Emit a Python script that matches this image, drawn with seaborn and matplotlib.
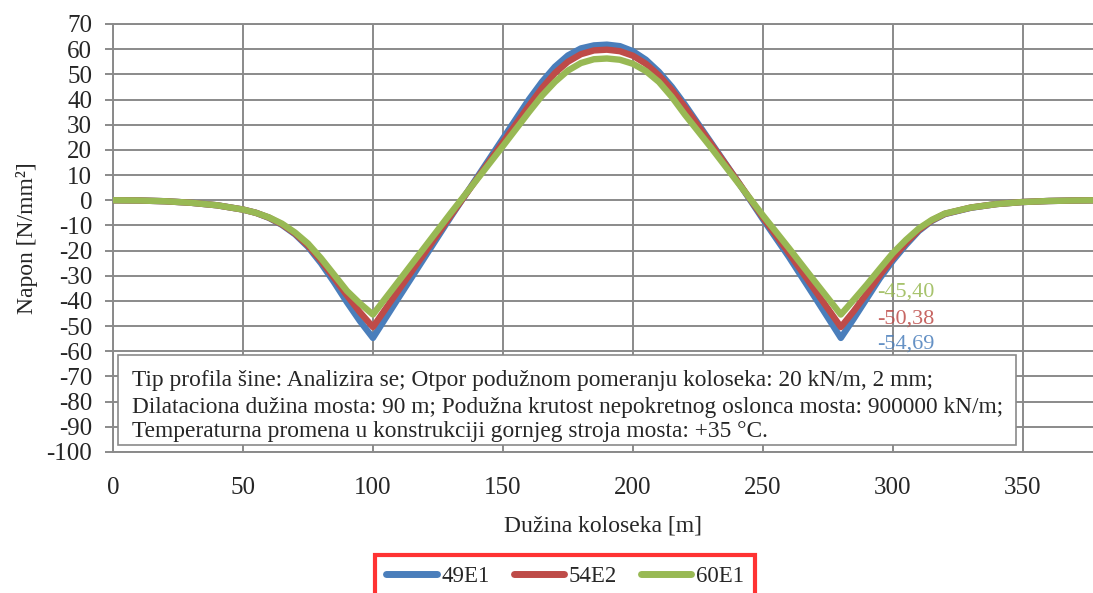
import pandas as pd
import seaborn as sns
import matplotlib.pyplot as plt
from matplotlib.patches import Rectangle

# duzina koloseka [m]
x_m = [0, 10, 20, 30, 40, 50, 55, 60, 65, 70, 75, 80, 85, 90, 95, 100,
       110, 120, 130, 140, 150, 160, 165, 170, 175, 180, 185, 190, 195, 200,
       205, 210, 215, 220, 230, 240, 250, 260, 270, 280, 285, 290, 295, 300,
       305, 310, 315, 320, 330, 340, 350, 360, 370, 380]

# napon [N/mm2] po profilu sine
napon_49E1 = [0, -0.1, -0.4, -1.0, -2.0, -3.7, -5.0, -7.0, -9.8, -13.5, -18.5, -25.0, -32.5, -40.5, -48.0, -54.69,
              -38.5, -22.5, -6.5, 9.0, 24.5, 40.0, 47.0, 53.0, 57.5, 60.3, 61.5, 61.8, 61.2, 59.2,
              55.8, 51.0, 45.0, 38.0, 23.0, 8.0, -7.5, -22.5, -38.5, -54.69, -47.0, -39.0, -31.0, -24.0,
              -17.8, -12.2, -8.2, -5.5, -3.0, -1.5, -0.7, -0.3, -0.1, 0]
napon_54E2 = [0, -0.1, -0.4, -1.0, -2.0, -3.7, -5.0, -6.9, -9.6, -13.2, -18.0, -24.0, -30.8, -37.8, -44.5, -50.38,
              -35.5, -20.8, -6.0, 8.5, 23.0, 37.5, 44.5, 50.5, 55.0, 58.0, 59.5, 59.8, 59.2, 57.4,
              54.2, 49.6, 43.8, 37.0, 22.5, 8.0, -6.8, -21.0, -35.7, -50.38, -44.0, -37.0, -29.8, -23.0,
              -17.0, -11.8, -8.0, -5.4, -2.9, -1.5, -0.7, -0.3, -0.1, 0]
napon_60E1 = [0, -0.1, -0.4, -1.0, -2.0, -3.7, -5.0, -6.8, -9.3, -12.8, -17.2, -23.0, -29.5, -36.0, -41.0, -45.40,
              -32.0, -18.5, -5.0, 8.2, 21.5, 35.0, 41.5, 47.0, 51.5, 54.5, 56.0, 56.3, 55.8, 54.2,
              51.3, 47.0, 41.0, 34.0, 21.0, 7.5, -6.0, -19.0, -32.3, -45.40, -39.5, -33.5, -27.2, -21.0,
              -15.8, -11.2, -7.8, -5.3, -2.9, -1.5, -0.7, -0.3, -0.1, 0]

profili = ["49E1", "54E2", "60E1"]
boje = ["#4A7EBB", "#BE4B48", "#98B954"]

y_ticks = list(range(-100, 71, 10))
x_ticks = list(range(0, 351, 50))

opis = ["Tip profila šine: Analizira se; Otpor podužnom pomeranju koloseka: 20 kN/m, 2 mm;",
        "Dilataciona dužina mosta: 90 m; Podužna krutost nepokretnog oslonca mosta: 900000 kN/m;",
        "Temperaturna promena u konstrukciji gornjeg stroja mosta: +35 °C."]

df = pd.concat([
    pd.DataFrame({"x": x_m, "napon": v, "profil": p})
    for p, v in zip(profili, [napon_49E1, napon_54E2, napon_60E1])
])

sns.set_style("white")
plt.rcParams["font.family"] = ["Liberation Serif", "DejaVu Serif"]
plt.rcParams["axes.unicode_minus"] = False
gray = "#8a8a8a"

fig = plt.figure(figsize=(10.93, 5.93), dpi=100)
ax = fig.add_axes([113 / 1093, 1 - 452 / 593, (1093 - 113) / 1093, (452 - 24) / 593])

sns.lineplot(data=df, x="x", y="napon", hue="profil", palette=boje, hue_order=profili,
             sort=False, estimator=None, linewidth=4.6, ax=ax, zorder=3)

ax.set_xlim(0, 377)
ax.set_ylim(-100, 70)
ax.set_xticks(x_ticks)
ax.set_yticks(y_ticks)
ax.set_axisbelow(True)
ax.grid(True, color=gray, linewidth=1.4)
for s in ["left", "bottom", "top"]:
    ax.spines[s].set_color(gray)
    ax.spines[s].set_linewidth(1.4)
ax.spines["right"].set_visible(False)
ax.tick_params(axis="y", length=6, width=1.4, color=gray, labelsize=18, pad=9, left=True)
ax.tick_params(axis="x", length=0, labelsize=18, pad=18)

ax.set_xlabel("Dužina koloseka [m]", fontsize=17, labelpad=12)
ax.set_ylabel("Napon [N/mm²]", fontsize=17, labelpad=6)

# okvir sa opisom
ax.add_patch(Rectangle((0.005, 0.016), 0.916, 0.211, transform=ax.transAxes,
                       facecolor="white", edgecolor=gray, linewidth=1.2, zorder=2))
for txt, yy in zip(opis, [0.166, 0.105, 0.047]):
    ax.text(0.019, yy, txt, transform=ax.transAxes, fontsize=16.8, va="center", zorder=4)

# vrednosti minimuma
label_y = [-57.3, -47.0, -36.6]
for p, c, ly in zip(profili, boje, label_y):
    vmin = df.loc[df.profil == p, "napon"].min()
    ax.text(294, ly, f"{vmin:.2f}".replace(".", ","), color=c, fontsize=16,
            va="center", ha="left", alpha=0.85, zorder=4)

ax.get_legend().remove()
handles, labels = ax.get_legend_handles_labels()
leg = fig.legend(handles, labels, loc="upper center", bbox_to_anchor=(565 / 1093, 1 - 555 / 593),
                 ncol=3, fontsize=16.5, frameon=True, fancybox=False, handlelength=2.2,
                 handletextpad=0.2, columnspacing=1.05, borderpad=0.5, borderaxespad=0)
leg.get_frame().set_edgecolor("#ff0000")
leg.get_frame().set_linewidth(3)
for line in leg.get_lines():
    line.set_linewidth(5)

fig.savefig("out.png", dpi=100)
